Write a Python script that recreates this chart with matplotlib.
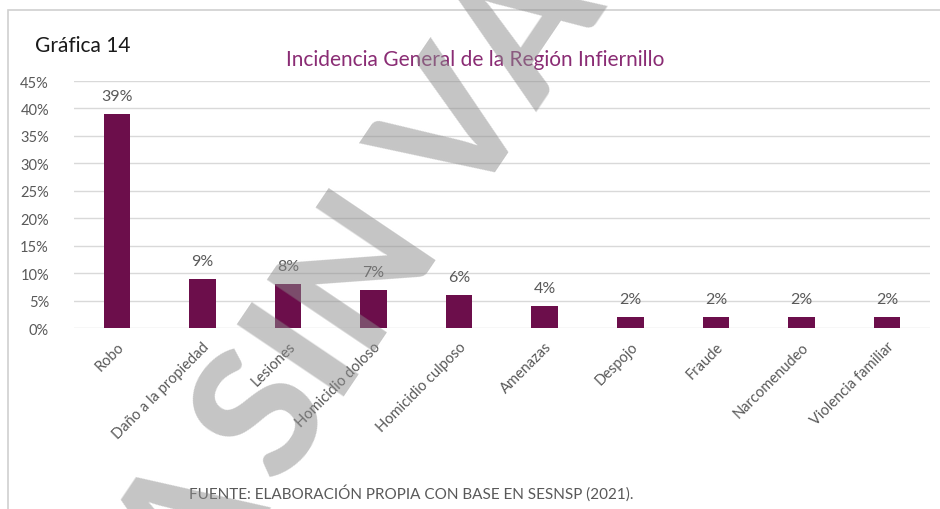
import matplotlib.pyplot as plt
from matplotlib.patches import Rectangle

categorias = ['Robo', 'Daño a la propiedad', 'Lesiones', 'Homicidio doloso',
              'Homicidio culposo', 'Amenazas', 'Despojo', 'Fraude',
              'Narcomenudeo', 'Violencia familiar']
porcentajes = [39, 9, 8, 7, 6, 4, 2, 2, 2, 2]
yticks = [0, 5, 10, 15, 20, 25, 30, 35, 40, 45]

BAR_COLOR = '#6c0e4b'
TITLE_COLOR = '#8a2c74'
GRAY = '#595959'

plt.rcParams['font.family'] = ['Lato', 'DejaVu Sans']


def plot_chart() -> None:
    """Draw the bar chart and save it as out.png"""
    fig = plt.figure(figsize=(9.4, 5.1), dpi=100)
    ax = fig.add_axes([0.0787, 0.3549, 0.9106, 0.4843])

    x = range(len(categorias))
    ax.bar(x, porcentajes, width=0.31, color=BAR_COLOR, zorder=3)
    for i, v in zip(x, porcentajes):
        ax.text(i, v + 2.0, f'{v}%', ha='center', va='bottom',
                fontsize=11.5, color=GRAY, zorder=4)

    ax.set_xlim(-0.5, len(categorias) - 0.5)
    ax.set_ylim(0, 45)
    ax.set_yticks(yticks)
    ax.set_yticklabels([f'{t}%' for t in yticks], fontsize=10.5, color=GRAY)
    ax.set_xticks(list(x))
    ax.set_xticklabels(categorias, rotation=45, ha='right',
                       rotation_mode='anchor', fontsize=10.5, color=GRAY)
    ax.tick_params(axis='x', length=0, pad=8)
    ax.tick_params(axis='y', length=0, pad=18)
    ax.grid(axis='y', color='#d9d9d9', linewidth=1.0, zorder=0)
    for side in ['top', 'right', 'left', 'bottom']:
        ax.spines[side].set_visible(False)

    # outer frame of the original figure
    fig.patches.append(Rectangle((8 / 940, -0.1), 1.2, 1 - 11 / 510 + 0.1,
                                 transform=fig.transFigure, fill=False,
                                 edgecolor='#d0d0d0', linewidth=1.2))

    fig.text(35 / 940, 1 - 46 / 510, 'Gráfica 14', fontsize=15,
             color='#1a1a1a', va='center')
    fig.text(475 / 940, 1 - 60 / 510,
             'Incidencia General de la Región Infiernillo',
             fontsize=15, color=TITLE_COLOR, ha='center', va='center')
    fig.text(411 / 940, 1 - 493 / 510,
             'FUENTE: ELABORACIÓN PROPIA CON BASE EN SESNSP (2021).',
             fontsize=11, color=GRAY, ha='center', va='center')

    # watermark
    marca = dict(fontsize=128, fontweight=900, family='Lato',
                 color='#8c8c8c', alpha=0.5, rotation=56,
                 rotation_mode='anchor', va='baseline', zorder=10)
    fig.text(282 / 940, 1 - 488 / 510, 'SIN VALOR', ha='left', **marca)
    fig.text(268 / 940, 1 - 502 / 510, 'COPIA', ha='right', **marca)

    fig.savefig('out.png', dpi=100)


plot_chart()
